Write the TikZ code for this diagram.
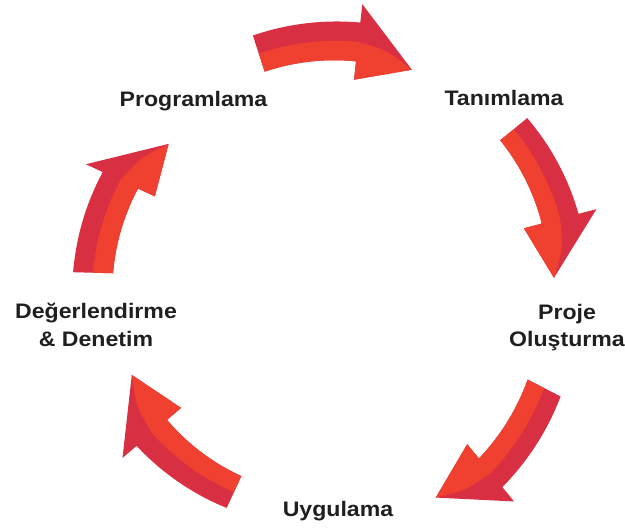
\documentclass[tikz,border=0pt]{standalone}
\usepackage{fontspec}
\newfontfamily\lblfont{Liberation Sans}[FakeStretch=1.1]
\definecolor{arrdark}{RGB}{216,48,66}
\definecolor{arrlight}{RGB}{239,64,48}
% #1 tail angle, #2 head-base angle, #3 tip angle,
% #4 tail inner r, #5 tail outer r, #6 base inner r, #7 base outer r, #8 tip r
\newcommand\cyclearrow[8]{%
  \fill[arrdark] plot[domain=#1:#2,samples=30] (\x:{#5+(#7-#5)*(\x-(#1))/((#2)-(#1))})
    -- (#2:{#7+18.5}) -- (#3:#8) -- (#2:{#6-18.5})
    -- plot[domain=#2:#1,samples=30] (\x:{#4+(#6-#4)*(\x-(#1))/((#2)-(#1))}) -- cycle;
  \fill[arrlight] plot[domain=#1:#2,samples=30] (\x:{(#4+#5)/2+((#6+#7)/2-(#4+#5)/2)*(\x-(#1))/((#2)-(#1))})
    .. controls ({(#2+#3)/2}:{((#6+#7)/2+#8)/2+4}) .. (#3:#8) -- (#2:{#6-18.5})
    -- plot[domain=#2:#1,samples=30] (\x:{#4+(#6-#4)*(\x-(#1))/((#2)-(#1))}) -- cycle;
}
\tikzset{lbl/.style={font=\lblfont\fontsize{21}{28}\selectfont\bfseries, text=black!88, inner sep=0pt, anchor=base}}
\begin{document}
\begin{tikzpicture}[x=1pt,y=1pt]
  \useasboundingbox (-332,-250) rectangle (293,279);
  \cyclearrow{108}{83.7}{69.1}{218}{256}{219}{258}{224}
  \cyclearrow{39.5}{14.8}{0.3}{218}{253}{217}{255}{222}
  \cyclearrow{-27.2}{-50.7}{-64.6}{220}{257}{232}{269}{242}
  \cyclearrow{-114.7}{-139.5}{-154.4}{217}{252}{217}{257}{222}
  \cyclearrow{178.5}{155}{140.4}{219}{259}{214}{253}{212}
  \node[lbl] (prog) at (-138.5,172) {Programlama};
  \node[lbl] (tanim) at (172,173) {Tanımlama};
  \node[lbl] (proje1) at (235,-41) {Proje};
  \node[lbl] (proje2) at (235,-68) {Oluşturma};
  \node[lbl] (uyg) at (6,-238) {Uygulama};
  \node[lbl] (deg1) at (-236,-40) {Değerlendirme};
  \node[lbl] (deg2) at (-236,-68) {\& Denetim};
\end{tikzpicture}
\end{document}
